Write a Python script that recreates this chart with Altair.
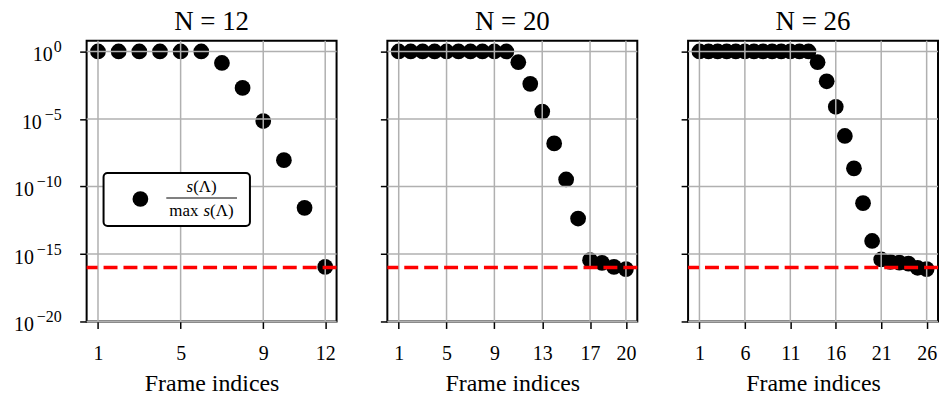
import altair as alt
import pandas as pd
import math

FONT = "Liberation Serif"

# ---- data ----
N_values = [12, 20, 26]
vals_12 = [1.0, 1.0, 1.0, 1.0, 1.0, 1.0, 1.4e-1, 2.0e-3, 7.0e-6, 8.9e-9, 2.6e-12, 1.1e-16]
vals_20 = [1.0] * 10 + [1.6e-1, 4.0e-3, 3.5e-5, 1.55e-7, 3.3e-10, 4.2e-13,
                        3.5e-16, 2.2e-16, 1.1e-16, 7.6e-17]
vals_26 = [1.0] * 13 + [1.6e-1, 6.2e-3, 8.0e-5, 5.5e-7, 2.2e-9, 5.8e-12, 9.2e-15,
                        3.9e-16, 2.6e-16, 2.3e-16, 1.95e-16, 9.5e-17, 7.6e-17]
series = [vals_12, vals_20, vals_26]
threshold = 1.0e-16

xticks_12 = [1, 5, 9, 12]
xticks_20 = [1, 5, 9, 13, 17, 20]
xticks_26 = [1, 6, 11, 16, 21, 26]
xticks = [xticks_12, xticks_20, xticks_26]

ytick_values = [1.0, 1e-5, 1e-10, 1e-15, 1e-20]
ytick_base = ["10", "10", "10", "10", "10"]
ytick_exp = ["0", "−5", "−10", "−15", "−20"]
ydomain = [1e-20, 6.3]
xdomains = [[0.45, 12.55], [0.05, 20.95], [-0.25, 27.25]]

x_title = "Frame indices"
legend_num = "(Λ)"
legend_den = "max"

W, H = 251, 282
GRID = "#b0b0b0"


def panel(i):
    N = N_values[i]
    vals = series[i]
    df = pd.DataFrame({"idx": list(range(1, N + 1)), "val": vals})
    xs = alt.Scale(domain=xdomains[i], nice=False, zero=False)
    ys = alt.Scale(type="log", domain=ydomain, nice=False)
    first = i == 0
    xaxis = alt.Axis(values=xticks[i], format="d", title=x_title, grid=False,
                     domain=False, tickSize=7, labelPadding=15, titlePadding=8)
    yaxis = alt.Axis(values=ytick_values, grid=False, domain=False, tickSize=7,
                     labels=False, title=None)

    pts = alt.Chart(df).mark_circle(size=250, color="black", opacity=1).encode(
        x=alt.X("idx:Q", scale=xs, axis=xaxis, title=x_title),
        y=alt.Y("val:Q", scale=ys, axis=yaxis, title=None),
    )
    gx = alt.Chart(pd.DataFrame({"t": xticks[i]})).mark_rule(
        color=GRID, strokeWidth=1.5).encode(x=alt.X("t:Q", scale=xs, title=x_title))
    gy = alt.Chart(pd.DataFrame({"t": ytick_values})).mark_rule(
        color=GRID, strokeWidth=1.5).encode(y=alt.Y("t:Q", scale=ys, title=None))
    red = alt.Chart(pd.DataFrame({"t": [threshold]})).mark_rule(
        color="#ff0000", strokeWidth=3.5, strokeDash=[14, 6]).encode(
        y=alt.Y("t:Q", scale=ys, title=None))
    layers = [pts, gx, gy, red]
    if first:
        lab_df = pd.DataFrame({"t": ytick_values, "b": ytick_base, "e": ytick_exp})
        lab_base = alt.Chart(lab_df).transform_calculate(
            m="indexof(datum.e, '−') >= 0 ? 1 : 0"
        ).transform_calculate(
            px="-26 - 8*(length(datum.e) - datum.m) - 11*datum.m"
        ).mark_text(font=FONT, fontSize=20, align="right", baseline="alphabetic",
                    dy=10, color="black").encode(
            x=alt.X("px:Q", scale=None),
            y=alt.Y("t:Q", scale=ys, title=None),
            text="b:N")
        lab_exp = alt.Chart(lab_df).mark_text(
            font=FONT, fontSize=16, align="right", baseline="alphabetic",
            dy=1, color="black").encode(
            x=alt.value(-25),
            y=alt.Y("t:Q", scale=ys, title=None),
            text="e:N")
        one = alt.Data(values=[{}])
        box = alt.Chart(one).mark_rect(fill="white", stroke="black", strokeWidth=2,
                                       cornerRadius=4).encode(
            x=alt.value(17), x2=alt.value(164), y=alt.value(133), y2=alt.value(186))
        dot = alt.Chart(one).mark_circle(size=250, color="black", opacity=1).encode(
            x=alt.value(54), y=alt.value(159))
        fr = alt.Chart(one).mark_rule(color="black", strokeWidth=1).encode(
            x=alt.value(80), x2=alt.value(151), y=alt.value(158))
        t_s1 = alt.Chart(one).mark_text(font=FONT, fontSize=17, fontStyle="italic",
                                        align="right", baseline="middle").encode(
            x=alt.value(107), y=alt.value(147), text=alt.value("s"))
        t_n1 = alt.Chart(one).mark_text(font=FONT, fontSize=17, align="left",
                                        baseline="middle").encode(
            x=alt.value(107), y=alt.value(147), text=alt.value(legend_num))
        t_d1 = alt.Chart(one).mark_text(font=FONT, fontSize=17, align="left",
                                        baseline="middle").encode(
            x=alt.value(83), y=alt.value(171), text=alt.value(legend_den))
        t_d2 = alt.Chart(one).mark_text(font=FONT, fontSize=17, fontStyle="italic",
                                        align="right", baseline="middle").encode(
            x=alt.value(124), y=alt.value(171), text=alt.value("s"))
        t_d3 = alt.Chart(one).mark_text(font=FONT, fontSize=17, align="left",
                                        baseline="middle").encode(
            x=alt.value(124), y=alt.value(171), text=alt.value(legend_num))
        layers += [lab_base, lab_exp, box, dot, fr, t_s1, t_n1, t_d1, t_d2, t_d3]
    return alt.layer(*layers).properties(
        width=W, height=H,
        title=alt.TitleParams(f"N = {N}", font=FONT, fontSize=27, fontWeight="normal",
                              color="black", offset=4))


chart = alt.hconcat(
    panel(0), panel(1), panel(2), spacing=51, bounds="flush",
    padding={"left": 13, "top": 5, "right": 0, "bottom": 0}, background="white",
).configure_view(stroke="black", strokeWidth=2).configure_axis(
    labelFont=FONT, labelFontSize=20, labelColor="black", titleFont=FONT,
    titleFontSize=24, titleFontWeight="normal", titleColor="black",
    tickColor="black", tickWidth=1.5)

chart.save("out.html", embed_options={"renderer": "svg", "actions": False})
